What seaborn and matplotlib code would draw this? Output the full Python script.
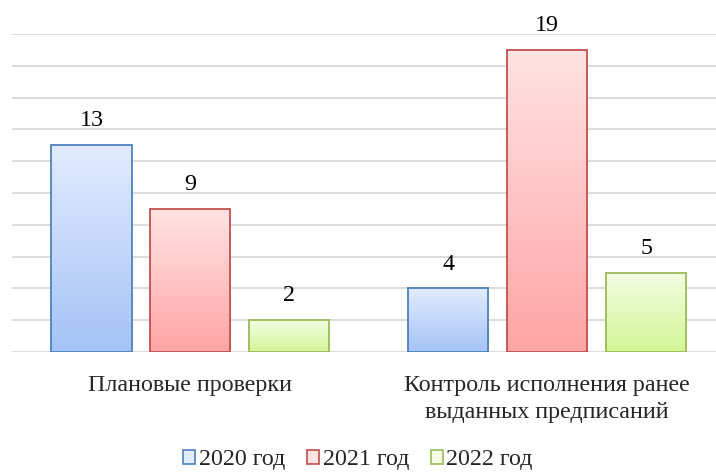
import matplotlib
matplotlib.use('Agg')
import matplotlib.pyplot as plt
import matplotlib.colors as mcolors
from matplotlib.patches import Patch
import seaborn as sns
import numpy as np
import pandas as pd

# data
categories = ['Плановые проверки', 'Контроль исполнения ранее\nвыданных предписаний']
years = ['2020 год', '2021 год', '2022 год']
values_2020 = [13, 4]
values_2021 = [9, 19]
values_2022 = [2, 5]

# colours: (top of gradient, bottom of gradient, edge)
grad_colors = {
    '2020 год': ('#e1ecfe', '#a5c3f6', '#4f81bd'),
    '2021 год': ('#ffe3e3', '#ffa5a5', '#c0504d'),
    '2022 год': ('#f4fde3', '#d3f597', '#9bbb59'),
}

df = pd.DataFrame({
    'category': categories * 3,
    'year': [years[0]] * 2 + [years[1]] * 2 + [years[2]] * 2,
    'value': values_2020 + values_2021 + values_2022,
})

sns.set_style('white')
plt.rcParams['font.family'] = ['Liberation Serif', 'DejaVu Serif']
FS = 17.3

fig = plt.figure(figsize=(7.16, 4.72), dpi=100)
ax = fig.add_axes([12 / 716, 120 / 472, 704 / 716, 318 / 472])

palette = {y: grad_colors[y][1] for y in years}
sns.barplot(data=df, x='category', y='value', hue='year', hue_order=years,
            order=categories, palette=palette, width=0.832, gap=0.19,
            ax=ax, legend=False, saturation=1)

xlim = (-0.5, 1.473)
ylim = (0, 20)

# gradient fill inside each bar + edge colour
for year, cont in zip(years, ax.containers):
    top, bottom, edge = grad_colors[year]
    cmap = mcolors.LinearSegmentedColormap.from_list('g', [bottom, top])
    for bar in cont.patches:
        bar.set_facecolor('none')
        bar.set_edgecolor(edge)
        bar.set_linewidth(1.3)
        bar.set_zorder(3)
        x0, y0 = bar.get_x(), bar.get_y()
        w, h = bar.get_width(), bar.get_height()
        grad = np.linspace(0, 1, 100).reshape(-1, 1)
        im = ax.imshow(grad, cmap=cmap, origin='lower', aspect='auto',
                       extent=[x0, x0 + w, y0, y0 + h], zorder=2)
        im.set_clip_path(bar)
    ax.bar_label(cont, padding=10, fontsize=FS, color='#000000')

ax.set_xlim(*xlim)
ax.set_ylim(*ylim)
ax.set_yticks(np.arange(0, 21, 2))
ax.yaxis.grid(True, color='#d9d9d9', linewidth=1.3)
ax.set_axisbelow(True)
ax.tick_params(axis='y', left=False, labelleft=False)
ax.tick_params(axis='x', bottom=False, pad=13, labelsize=FS)
plt.setp(ax.get_xticklabels(), linespacing=1.4)
ax.set_xlabel('')
ax.set_ylabel('')
for s in ax.spines.values():
    s.set_visible(False)

handles = [Patch(facecolor=grad_colors[y][0], edgecolor=grad_colors[y][2], linewidth=1.2)
           for y in years]
fig.legend(handles, years, loc='center', bbox_to_anchor=(358 / 716, 1 - 460 / 472),
           ncol=3, frameon=False, fontsize=FS, handlelength=0.5, handleheight=0.5,
           handletextpad=0.15, columnspacing=0.9, borderaxespad=0)

fig.savefig('out.png', dpi=100)
plt.close(fig)
